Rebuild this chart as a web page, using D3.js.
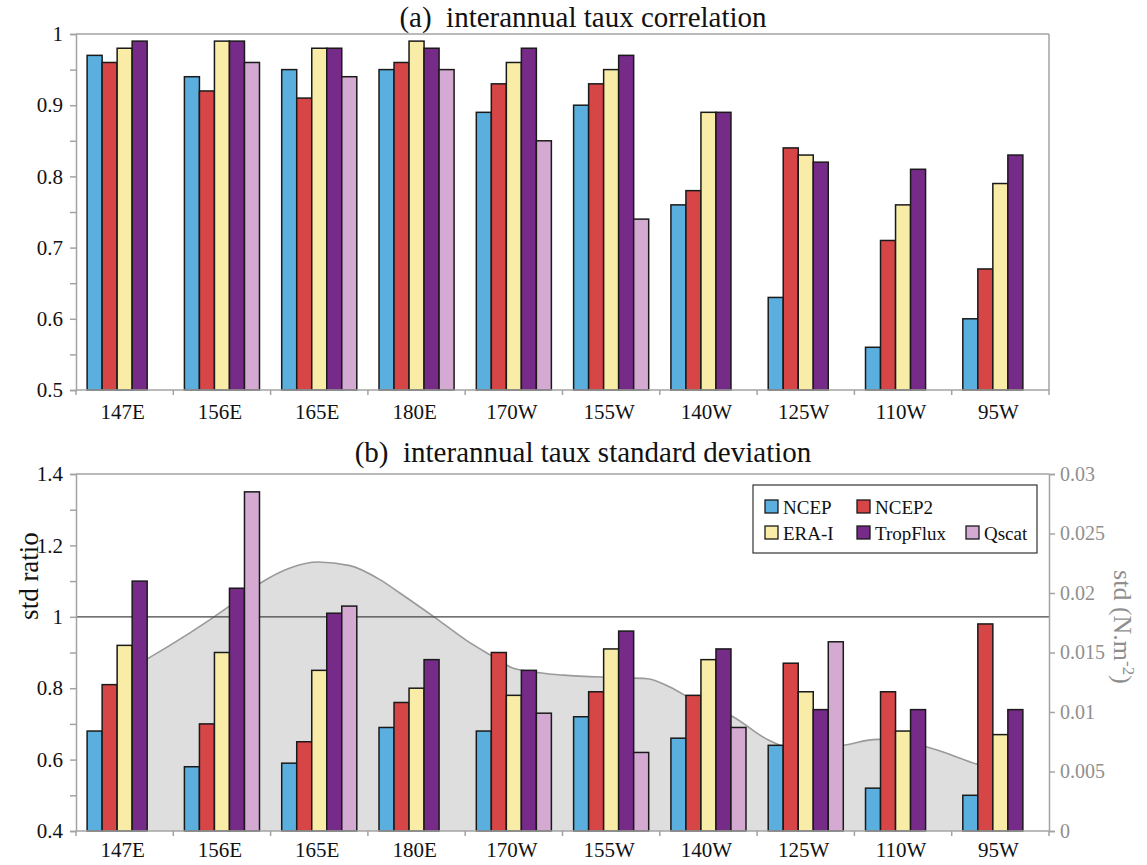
<!DOCTYPE html>
<html>
<head>
<meta charset="utf-8">
<script src="https://cdn.jsdelivr.net/npm/d3@7"></script>
<style>
  body { margin: 0; background: #fff; }
</style>
</head>
<body>
<div id="chart"></div>
<script>
const categories = ['147E', '156E', '165E', '180E', '170W', '155W', '140W', '125W', '110W', '95W'];
const seriesNames = ['NCEP', 'NCEP2', 'ERA-I', 'TropFlux', 'Qscat'];

// (a) correlation
const corrNCEP     = [0.97, 0.94, 0.95, 0.95, 0.89, 0.90, 0.76, 0.63, 0.56, 0.60];
const corrNCEP2    = [0.96, 0.92, 0.91, 0.96, 0.93, 0.93, 0.78, 0.84, 0.71, 0.67];
const corrERAI     = [0.98, 0.99, 0.98, 0.99, 0.96, 0.95, 0.89, 0.83, 0.76, 0.79];
const corrTropFlux = [0.99, 0.99, 0.98, 0.98, 0.98, 0.97, 0.89, 0.82, 0.81, 0.83];
const corrQscat    = [null, 0.96, 0.94, 0.95, 0.85, 0.74, null, null, null, null];

// (b) std ratio
const ratioNCEP     = [0.68, 0.58, 0.59, 0.69, 0.68, 0.72, 0.66, 0.64, 0.52, 0.50];
const ratioNCEP2    = [0.81, 0.70, 0.65, 0.76, 0.90, 0.79, 0.78, 0.87, 0.79, 0.98];
const ratioERAI     = [0.92, 0.90, 0.85, 0.80, 0.78, 0.91, 0.88, 0.79, 0.68, 0.67];
const ratioTropFlux = [1.10, 1.08, 1.01, 0.88, 0.85, 0.96, 0.91, 0.74, 0.74, 0.74];
const ratioQscat    = [null, 1.35, 1.03, null, 0.73, 0.62, 0.69, 0.93, null, null];

// observed std (N.m-2) along the section, longitude in degrees east
const stdLon = [153.2, 154.0, 164.3, 168.6, 172.5, 176.1, 180.2, 184.1, 186.6, 191.4, 195.2, 198.2,
                201.1, 203.3, 207.6, 214.0, 218.4, 221.3, 224.8, 229.4, 233.8, 238.0, 243.5, 248.0,
                254.1, 260.8, 263.7];
const stdVal = [0.0141, 0.0144, 0.0187, 0.0208, 0.0221, 0.0226, 0.0223, 0.0211, 0.0200, 0.0178, 0.0160, 0.0148,
                0.0137, 0.0134, 0.0131, 0.0129, 0.0128, 0.0121, 0.0108, 0.0096, 0.0077, 0.0068, 0.0072, 0.0077,
                0.0071, 0.0056, 0.0050];

const colors = ['#5aafdf', '#d64646', '#f8eca6', '#772b88', '#d4aad3'];
const axisGrey = '#a3a3a3';
const font = '"Liberation Serif", "Times New Roman", Times, "DejaVu Serif", serif';

const width = 1147, height = 865;
const left = 76, right = 1049;

const svg = d3.select('#chart').append('svg')
    .attr('width', width)
    .attr('height', height)
    .style('font-family', font);

const x0 = d3.scaleBand().domain(categories).range([left, right]).padding(0);
const x1 = d3.scaleBand().domain(seriesNames).range([0, x0.bandwidth()]).paddingInner(0).paddingOuter(0.74);

function drawPanel(g, y, series, opts) {
    // frame: top and right border
    g.append('line').attr('x1', left).attr('x2', right).attr('y1', y.range()[1]).attr('y2', y.range()[1])
        .attr('stroke', axisGrey).attr('stroke-width', 1.5);
    if (!opts.rightAxis) {
        g.append('line').attr('x1', right).attr('x2', right).attr('y1', y.range()[1]).attr('y2', y.range()[0])
            .attr('stroke', axisGrey).attr('stroke-width', 1.5);
    }

    if (opts.under) opts.under(g);

    series.forEach(function(vals, si) {
        g.append('g').selectAll('rect')
            .data(vals.map(function(v, i) { return { cat: categories[i], v: v }; }).filter(function(d) { return d.v != null; }))
            .enter()
            .append('rect')
            .attr('x', function(d) { return x0(d.cat) + x1(seriesNames[si]); })
            .attr('width', x1.bandwidth())
            .attr('y', function(d) { return y(d.v); })
            .attr('height', function(d) { return y.range()[0] - y(d.v); })
            .attr('fill', colors[si])
            .attr('stroke', '#1a1a1a')
            .attr('stroke-width', 1.5);
    });

    // left axis
    const yAxis = g.append('g')
        .attr('transform', 'translate(' + left + ',0)')
        .call(d3.axisLeft(y).tickValues(opts.minor).tickSize(6).tickFormat(''));
    yAxis.select('.domain').remove();
    yAxis.selectAll('line').attr('stroke', axisGrey).attr('stroke-width', 1.5);

    const yLab = g.append('g')
        .attr('transform', 'translate(' + left + ',0)')
        .call(d3.axisLeft(y).tickValues(opts.major).tickSize(6).tickPadding(7).tickFormat(d3.format('')));
    yLab.attr('font-family', null);
    yLab.select('.domain').attr('stroke', axisGrey).attr('stroke-width', 1.5);
    yLab.selectAll('line').attr('stroke', axisGrey).attr('stroke-width', 1.5);
    yLab.selectAll('text').attr('fill', '#111').style('font-size', '21px').style('font-family', font);

    // bottom axis: ticks at category boundaries
    const xb = g.append('g').attr('transform', 'translate(0,' + y.range()[0] + ')');
    xb.append('line').attr('x1', left).attr('x2', right).attr('stroke', axisGrey).attr('stroke-width', 1.5);
    xb.selectAll('.tk')
        .data(categories.concat(['end']))
        .enter()
        .append('line')
        .attr('x1', function(d, i) { return i < categories.length ? x0(d) : right; })
        .attr('x2', function(d, i) { return i < categories.length ? x0(d) : right; })
        .attr('y1', 0).attr('y2', 5)
        .attr('stroke', axisGrey).attr('stroke-width', 1.5);
    xb.selectAll('.lab')
        .data(categories)
        .enter()
        .append('text')
        .attr('x', function(d) { return x0(d) + x0.bandwidth() / 2 - 2; })
        .attr('y', opts.labelDy)
        .attr('text-anchor', 'middle')
        .style('font-size', '21px')
        .style('font-family', font)
        .attr('fill', '#111')
        .text(function(d) { return d; });

    g.append('text')
        .attr('x', 583)
        .attr('y', opts.titleY)
        .attr('text-anchor', 'middle')
        .style('font-size', '29px')
        .style('font-family', font)
        .attr('fill', '#111')
        .text(opts.title);
}

// ---------- panel (a)
const yA = d3.scaleLinear().domain([0.5, 1]).range([390, 34]);
drawPanel(svg.append('g'), yA, [corrNCEP, corrNCEP2, corrERAI, corrTropFlux, corrQscat], {
    title: '(a)\u00a0 interannual taux correlation',
    titleY: 27,
    labelDy: 29,
    major: [0.5, 0.6, 0.7, 0.8, 0.9, 1],
    minor: [0.55, 0.65, 0.75, 0.85, 0.95]
});

// ---------- panel (b)
const yB = d3.scaleLinear().domain([0.4, 1.4]).range([831, 474]);
const yStd = d3.scaleLinear().domain([0, 0.03]).range([831, 474]);
const lonX = d3.scaleLinear().domain([145, 270]).range([left, right]);

drawPanel(svg.append('g'), yB, [ratioNCEP, ratioNCEP2, ratioERAI, ratioTropFlux, ratioQscat], {
    title: '(b)\u00a0 interannual taux standard deviation',
    titleY: 462,
    labelDy: 26,
    major: [0.4, 0.6, 0.8, 1, 1.2, 1.4],
    minor: [0.5, 0.7, 0.9, 1.1, 1.3],
    rightAxis: true,
    under: function(g) {
        const pts = stdLon.map(function(l, i) { return [l, stdVal[i]]; });
        g.append('path')
            .datum(pts)
            .attr('d', d3.area()
                .x(function(d) { return lonX(d[0]); })
                .y0(yStd(0))
                .y1(function(d) { return yStd(d[1]); })
                .curve(d3.curveMonotoneX))
            .attr('fill', '#dedede');
        g.append('path')
            .datum(pts)
            .attr('d', d3.line()
                .x(function(d) { return lonX(d[0]); })
                .y(function(d) { return yStd(d[1]); })
                .curve(d3.curveMonotoneX))
            .attr('fill', 'none')
            .attr('stroke', '#9a9a9a')
            .attr('stroke-width', 1.6);
        g.append('line')
            .attr('x1', left).attr('x2', right)
            .attr('y1', yB(1)).attr('y2', yB(1))
            .attr('stroke', '#444').attr('stroke-width', 1.2);
    }
});

// right axis
const rAxis = svg.append('g')
    .attr('transform', 'translate(' + right + ',0)')
    .call(d3.axisRight(yStd).tickValues([0, 0.005, 0.01, 0.015, 0.02, 0.025, 0.03]).tickSize(6).tickPadding(5).tickFormat(d3.format('')));
rAxis.select('.domain').attr('stroke', axisGrey).attr('stroke-width', 1.5);
rAxis.selectAll('line').attr('stroke', axisGrey).attr('stroke-width', 1.5);
rAxis.selectAll('text').attr('fill', '#8f8f8f').style('font-size', '20px').style('font-family', font);

svg.append('text')
    .attr('transform', 'translate(1114,627) rotate(90)')
    .attr('text-anchor', 'middle')
    .attr('fill', '#8f8f8f')
    .style('font-size', '26px')
    .style('font-family', font)
    .call(function(t) {
        t.append('tspan').text('std (N.m');
        t.append('tspan').attr('dy', -9).style('font-size', '17px').text('-2');
        t.append('tspan').attr('dy', 9).text(')');
    });

svg.append('text')
    .attr('transform', 'translate(38,576) rotate(-90)')
    .attr('text-anchor', 'middle')
    .attr('fill', '#111')
    .style('font-size', '27px')
    .style('font-family', font)
    .text('std ratio');

// legend
const legend = svg.append('g').attr('transform', 'translate(753,485)');
legend.append('rect')
    .attr('width', 284).attr('height', 68)
    .attr('fill', '#fff').attr('stroke', '#333').attr('stroke-width', 1.2);
const legendCols = [12, 104, 213];
const legendItems = legend.selectAll('.item')
    .data(seriesNames)
    .enter()
    .append('g')
    .attr('transform', function(d, i) {
        const row = i < 2 ? 0 : 1;
        const col = i < 2 ? i : i - 2;
        return 'translate(' + legendCols[col] + ',' + (22 + row * 26) + ')';
    });
legendItems.append('rect')
    .attr('x', 0).attr('y', -7).attr('width', 13).attr('height', 13)
    .attr('fill', function(d, i) { return colors[i]; })
    .attr('stroke', '#1a1a1a').attr('stroke-width', 1.3);
legendItems.append('text')
    .attr('x', 18).attr('y', 7)
    .style('font-size', '19px')
    .style('font-family', font)
    .attr('fill', '#111')
    .text(function(d) { return d; });
</script>
</body>
</html>
